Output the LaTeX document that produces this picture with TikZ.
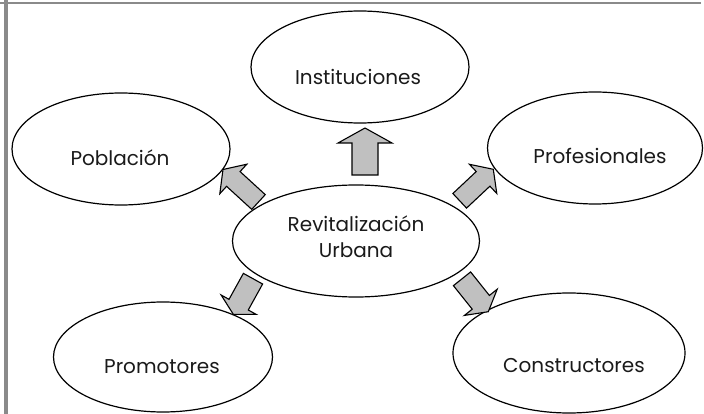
\documentclass[tikz,border=0pt]{standalone}
\usepackage{fontspec}
\setmainfont{Poppins}
\usetikzlibrary{shapes.geometric,calc}
\definecolor{framegray}{HTML}{8A8A8A}
\definecolor{arrowgray}{HTML}{C0C0C0}
\definecolor{inkblack}{HTML}{1A1A1A}
\tikzset{
  ell/.style={draw=black, ellipse, line width=1.2pt, inner sep=0pt},
  lbl/.style={inner sep=0pt, text=inkblack, font=\fontsize{20}{26}\selectfont, align=center},
  blockarr/.style={draw=black, fill=arrowgray, line width=1.1pt, line join=miter},
  framebar/.style={draw=framegray}
}
% #1 tail, #2 tip, #3 shaft half width, #4 head half width, #5 head length
\newcommand\blockarrow[5]{%
  \draw[blockarr]
    ($(#1)!#3!90:(#2)$) --
    ($(#2)!#5!(#1)!#3!90:(#2)$) --
    ($(#2)!#5!(#1)!#4!90:(#2)$) --
    (#2) --
    ($(#2)!#5!(#1)!#4!-90:(#2)$) --
    ($(#2)!#5!(#1)!#3!-90:(#2)$) --
    ($(#1)!#3!-90:(#2)$) -- cycle;}
\begin{document}
\begin{tikzpicture}[x=1pt,y=-1pt]
\useasboundingbox (0,0) rectangle (704,414);
% frame
\coordinate (ftl) at (0,3);
\coordinate (ftr) at (701,3);
\coordinate (flt) at (6,0);
\coordinate (flb) at (6,414);
\draw[framebar, line width=2pt] (ftl) -- (ftr);
\draw[framebar, line width=4pt] (flt) -- (flb);
% ellipses
\node[ell, minimum width=218pt, minimum height=112pt] (ins) at (360,67) {};
\node[ell, minimum width=218pt, minimum height=112pt] (pob) at (121,149) {};
\node[ell, minimum width=215pt, minimum height=112pt] (prof) at (595,148) {};
\node[ell, minimum width=247pt, minimum height=112pt] (rev) at (356,241) {};
\node[ell, minimum width=232pt, minimum height=120pt] (con) at (569,353) {};
\node[ell, minimum width=219pt, minimum height=110pt] (prom) at (163,357) {};
% labels
\node[lbl, anchor=base] (tins) at (358,85) {Instituciones};
\node[lbl, anchor=base] (tpob) at (120,166) {Población};
\node[lbl, anchor=base] (tprof) at (600,164) {Profesionales};
\node[lbl, anchor=south] (trev) at (356,258) {Revitalización\\Urbana};
\node[lbl, anchor=base] (tcon) at (574,372) {Constructores};
\node[lbl, anchor=base] (tprom) at (162,373) {Promotores};
% arrow ends
\coordinate (a1s) at (365,175);   \coordinate (a1t) at (365,128);
\coordinate (a2s) at (258.5,202); \coordinate (a2t) at (223,169.5);
\coordinate (a3s) at (459.7,200.8); \coordinate (a3t) at (493.3,169.3);
\coordinate (a4s) at (253,278.7); \coordinate (a4t) at (233.3,314.3);
\coordinate (a5s) at (462,278.8); \coordinate (a5t) at (488.3,311.7);
\blockarrow{a1s}{a1t}{13pt}{27pt}{15pt}
\blockarrow{a2s}{a2t}{10pt}{20pt}{14pt}
\blockarrow{a3s}{a3t}{10pt}{20pt}{14pt}
\blockarrow{a4s}{a4t}{11pt}{20pt}{11pt}
\blockarrow{a5s}{a5t}{11pt}{21pt}{12pt}
\end{tikzpicture}
\end{document}
